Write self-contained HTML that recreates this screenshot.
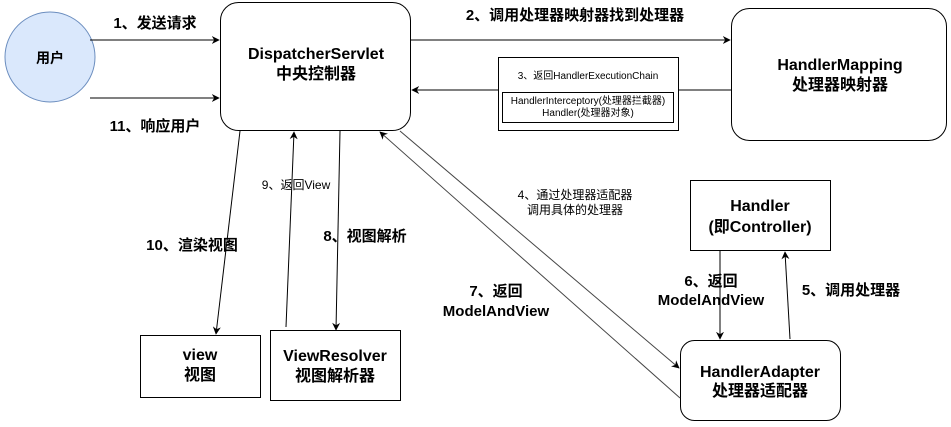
<!DOCTYPE html>
<html><head><meta charset="utf-8"><style>
body{margin:0;background:#fff;width:951px;height:422px;overflow:hidden}
svg text{font-family:"Liberation Sans","Noto Sans CJK SC",sans-serif;font-weight:bold;fill:#000;text-anchor:middle}
svg text.n{font-weight:normal}
</style></head><body>
<svg width="951" height="422" viewBox="0 0 951 422" xmlns="http://www.w3.org/2000/svg">
<defs><marker id="a" viewBox="0 0 10 10" refX="9" refY="5" markerWidth="8" markerHeight="8" orient="auto" markerUnits="userSpaceOnUse"><path d="M0,0 L10,5 L0,10 L3,5 z" fill="#000"/></marker></defs>
<g fill="none" stroke="#000" stroke-width="1">
<circle cx="50" cy="57" r="45" fill="#dae8fc" stroke="#6c8ebf"/>
<rect x="220.5" y="2.5" width="190" height="128" rx="18" fill="#fff"/>
<rect x="731.5" y="8.5" width="215" height="132" rx="18" fill="#fff"/>
<rect x="690.5" y="180.5" width="140" height="70" fill="#fff"/>
<rect x="680.5" y="340.5" width="160" height="80" rx="14" fill="#fff"/>
<rect x="140.5" y="335.5" width="120" height="62" fill="#fff"/>
<rect x="270.5" y="330.5" width="130" height="70" fill="#fff"/>
<line x1="90" y1="40" x2="219" y2="40" marker-end="url(#a)"/>
<line x1="90" y1="98" x2="219" y2="98" marker-end="url(#a)"/>
<line x1="411" y1="40" x2="730" y2="40" marker-end="url(#a)"/>
<line x1="731" y1="90" x2="412" y2="90" marker-end="url(#a)"/>
<line x1="240" y1="131" x2="216" y2="334" marker-end="url(#a)"/>
<line x1="286" y1="327" x2="294" y2="132" marker-end="url(#a)"/>
<line x1="340" y1="131" x2="336" y2="330" marker-end="url(#a)"/>
<line x1="400" y1="131" x2="679" y2="368" marker-end="url(#a)" stroke="#444"/>
<line x1="680" y1="398" x2="380" y2="132" marker-end="url(#a)" stroke="#444"/>
<line x1="720" y1="251" x2="720" y2="339" marker-end="url(#a)"/>
<line x1="790" y1="339" x2="785" y2="252" marker-end="url(#a)"/>
<rect x="498.5" y="57.5" width="180" height="73" fill="#fff"/>
<rect x="502.5" y="92.5" width="171" height="30" fill="#fff"/>
</g>
<text x="50" y="63" font-size="14">用户</text>
<text x="316" y="59" font-size="16">DispatcherServlet</text>
<text x="316" y="79" font-size="16">中央控制器</text>
<text x="840" y="70" font-size="16">HandlerMapping</text>
<text x="840" y="90" font-size="16">处理器映射器</text>
<text x="760" y="211" font-size="16">Handler</text>
<text x="760" y="232" font-size="16">(即Controller)</text>
<text x="760" y="377" font-size="16">HandlerAdapter</text>
<text x="760" y="396" font-size="16">处理器适配器</text>
<text x="200" y="360" font-size="16">view</text>
<text x="200" y="380" font-size="16">视图</text>
<text x="335" y="361" font-size="16">ViewResolver</text>
<text x="335" y="381" font-size="16">视图解析器</text>
<text x="155" y="28" font-size="15">1、发送请求</text>
<text x="155" y="131" font-size="15">11、响应用户</text>
<text x="575" y="20" font-size="15">2、调用处理器映射器找到处理器</text>
<text class="n" x="588" y="79" font-size="10">3、返回HandlerExecutionChain</text>
<text class="n" x="588" y="104" font-size="10">HandlerInterceptory(处理器拦截器)</text>
<text class="n" x="588" y="116" font-size="10">Handler(处理器对象)</text>
<text class="n" x="296" y="189" font-size="12">9、返回View</text>
<text x="365" y="241" font-size="15">8、视图解析</text>
<text x="192" y="250" font-size="15">10、渲染视图</text>
<text class="n" x="575" y="199" font-size="12">4、通过处理器适配器</text>
<text class="n" x="575" y="214" font-size="12">调用具体的处理器</text>
<text x="496" y="296" font-size="15">7、返回</text>
<text x="496" y="316" font-size="15">ModelAndView</text>
<text x="711" y="286" font-size="15">6、返回</text>
<text x="711" y="305" font-size="15">ModelAndView</text>
<text x="851" y="295" font-size="15">5、调用处理器</text>
</svg>
</body></html>
